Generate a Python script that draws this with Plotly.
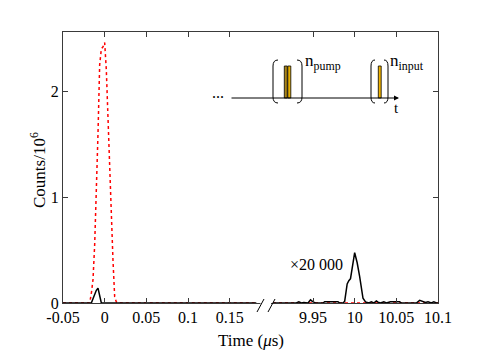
import plotly.graph_objects as go

# ---------------- data (time in microseconds, counts in 10^6) ----------------
pump_t_left = [-0.05, -0.018, -0.016, -0.014, -0.012, -0.010, -0.008, -0.006, -0.004,
               -0.002, 0.0, 0.002, 0.004, 0.006, 0.008, 0.010, 0.012, 0.014, 0.016, 0.182]
pump_y_left = [0, 0, 0.09, 0.22, 0.55, 1.0, 1.6, 2.25, 2.4,
               2.42, 2.46, 2.2, 1.7, 1.32, 0.85, 0.4, 0.06, 0.01, 0, 0]
pump_t_right = [9.902, 10.1]
pump_y_right = [0, 0]

sig_t_left = [-0.05, -0.016, -0.014, -0.012, -0.010, -0.008, -0.006, -0.004, 0.182]
sig_y_left = [0, 0, 0.04, 0.08, 0.12, 0.14, 0.07, 0.0, 0]

sig_t_right = [9.902, 9.930, 9.933, 9.936, 9.939, 9.944, 9.947, 9.950, 9.953, 9.962,
               9.964, 9.980, 9.982, 9.986, 9.988, 9.991, 9.993, 9.995, 10.000, 10.003,
               10.006, 10.010, 10.013, 10.017, 10.020, 10.023, 10.026, 10.028, 10.031,
               10.035, 10.038, 10.041, 10.043, 10.054, 10.056, 10.061, 10.074, 10.078,
               10.082, 10.085, 10.088, 10.092, 10.095, 10.098, 10.1]
sig_y_right = [0, 0, 0.012, 0, 0.005, 0, 0.03, 0.01, 0, 0,
               0.012, 0.012, 0, 0, 0.015, 0.18, 0.21, 0.23, 0.475, 0.38,
               0.25, 0.045, 0.01, 0.0, 0.012, 0.0, 0.02, 0.008, 0.0,
               0.012, 0.0, 0.008, 0.012, 0.012, 0.0, 0.0, 0.0, 0.025,
               0.015, 0.005, 0.012, 0.0, 0.012, 0.0, 0.0]

tick_left = [-0.05, 0, 0.05, 0.1, 0.15]
tick_right = [9.95, 10, 10.05, 10.1]
tick_labels = ["-0.05", "0", "0.05", "0.1", "0.15", "9.95", "10", "10.05", "10.1"]
y_ticks = [0, 1, 2]

scale_label = "×20 000"

# ---------------- broken-axis mapping ----------------
SHIFT = 9.7  # right segment is drawn shifted left by this amount


def right_map(ts):
    return [t - SHIFT for t in ts]


# ---------------- figure geometry (pixel helpers) ----------------
W, H = 484, 363
L, R, T, B = 63, 438, 32, 303


def px(x):
    return (x - L) / (R - L)


def py(y):
    return (B - y) / (B - T)


FONT = "Liberation Serif"
AX = "#3a3a3a"

fig = go.Figure()
fig.add_trace(go.Scatter(x=pump_t_left, y=pump_y_left, mode="lines",
                         line=dict(color="red", width=1.5, dash="dot"), showlegend=False))
fig.add_trace(go.Scatter(x=right_map(pump_t_right), y=pump_y_right, mode="lines",
                         line=dict(color="red", width=1.5, dash="dot"), showlegend=False))
fig.add_trace(go.Scatter(x=sig_t_left, y=sig_y_left, mode="lines",
                         line=dict(color="black", width=1.5), showlegend=False))
fig.add_trace(go.Scatter(x=right_map(sig_t_right), y=sig_y_right, mode="lines",
                         line=dict(color="black", width=1.5), showlegend=False))

fig.update_layout(
    width=W, height=H,
    margin=dict(l=L, r=W - R, t=T, b=H - B),
    paper_bgcolor="white", plot_bgcolor="white",
    font=dict(family=FONT, size=16, color="black"),
    xaxis=dict(range=[-0.05, 10.1 - SHIFT],
               tickvals=tick_left + right_map(tick_right), ticktext=tick_labels,
               ticks="inside", ticklen=5, tickcolor=AX, tickwidth=1,
               showline=True, linecolor=AX, linewidth=1, mirror="ticks",
               showgrid=False, zeroline=False, tickfont=dict(size=16)),
    yaxis=dict(range=[0, 2.56], tickvals=y_ticks,
               ticks="inside", ticklen=5, tickcolor=AX, tickwidth=1,
               showline=True, linecolor=AX, linewidth=1, mirror="ticks",
               showgrid=False, zeroline=False, tickfont=dict(size=16)),
)

shapes = []
# axis break marks
shapes.append(dict(type="rect", xref="paper", yref="paper",
                   x0=px(260.5), x1=px(271), y0=py(306), y1=py(300),
                   fillcolor="white", line=dict(width=0), layer="above"))
for x0 in (257, 268):
    shapes.append(dict(type="line", xref="paper", yref="paper",
                       x0=px(x0), y0=py(312), x1=px(x0 + 7), y1=py(299),
                       line=dict(color="black", width=1)))


# inset schematic: brackets
def bracket(xa, xb, left=True):
    y0, y1, r = 60, 103, 6
    if left:
        p = (f"M {px(xb)},{py(y0)} Q {px(xa)},{py(y0)} {px(xa)},{py(y0 + r)} "
             f"L {px(xa)},{py(y1 - r)} Q {px(xa)},{py(y1)} {px(xb)},{py(y1)}")
    else:
        p = (f"M {px(xa)},{py(y0)} Q {px(xb)},{py(y0)} {px(xb)},{py(y0 + r)} "
             f"L {px(xb)},{py(y1 - r)} Q {px(xb)},{py(y1)} {px(xa)},{py(y1)}")
    return dict(type="path", xref="paper", yref="paper", path=p,
                line=dict(color="black", width=1))


shapes += [bracket(273, 278, True), bracket(297, 302, False),
           bracket(371, 375, True), bracket(384, 388, False)]

# pulses
for xa, xb, col in [(284.3, 287.3, "#a88418"), (287.8, 290.8, "#e8b000"),
                    (378.3, 381.2, "#f2b400")]:
    shapes.append(dict(type="rect", xref="paper", yref="paper",
                       x0=px(xa), x1=px(xb), y0=py(98), y1=py(66),
                       fillcolor=col, line=dict(color="black", width=0.8)))
fig.update_layout(shapes=shapes)


def note(x, y, text, size=16, **kw):
    d = dict(xref="paper", yref="paper", x=px(x), y=py(y), text=text,
             showarrow=False, xanchor="center", yanchor="middle",
             font=dict(size=size))
    d.update(kw)
    return d


ann = []
# time arrow
ann.append(dict(xref="paper", yref="paper", x=px(399), y=py(98), text="",
                showarrow=True, ax=-(399 - 230), ay=0, axref="pixel", ayref="pixel",
                arrowhead=2, arrowsize=1, arrowwidth=1, arrowcolor="black"))
ann.append(note(218, 92, "...", 16))
ann.append(note(396, 108, "t", 15))
ann.append(note(303, 62, "n<sub>pump</sub>", 17, xanchor="left"))
ann.append(note(388, 62, "n<sub>input</sub>", 17, xanchor="left"))
ann.append(note(316, 264, scale_label, 16))
# axis titles
ann.append(note(251, 340, "Time (<i>μ</i>s)", 17))
ann.append(note(38, 170, "Counts/10<sup>6</sup>", 17, textangle=-90))
fig.update_layout(annotations=ann)

fig.write_html("out.html", config={"displayModeBar": False},
               post_script="document.body.style.margin='0';")
